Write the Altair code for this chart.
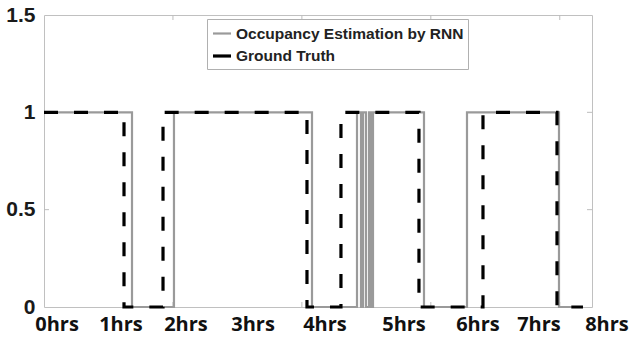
import altair as alt
import pandas as pd

# ---- data (x in samples, plot spans 0..8500) ----
RNN_NAME = "Occupancy Estimation by RNN"
GT_NAME = "Ground Truth"

rnn_t = [0, 1365, 2016, 4157, 4855, 4917, 4948, 4994, 5041, 5072, 5103, 5894, 6561, 7988, 8360]
rnn_v = [1, 0, 1, 0, 1, 0, 1, 0, 1, 0, 1, 0, 1, 0, 0]

gt_t = [0, 1241, 1846, 4079, 4606, 5816, 6809, 7957, 8360]
gt_v = [1, 0, 1, 0, 1, 0, 1, 0, 0]

hour_labels = ["0hrs", "1hrs", "2hrs", "3hrs", "4hrs", "5hrs", "6hrs", "7hrs", "8hrs"]
hour_pos = [202, 1194, 2202, 3242, 4358, 5584, 6731, 7677, 8732]

y_ticks = [0, 0.5, 1, 1.5]
x_ticks = [2000, 4000, 6000, 8000]

W, H = 548, 292

rnn = pd.DataFrame({"t": rnn_t, "v": rnn_v, "series": RNN_NAME})
gt = pd.DataFrame({"t": gt_t, "v": gt_v, "series": GT_NAME})
labels = pd.DataFrame({"t": hour_pos, "label": hour_labels})
ytk = pd.DataFrame({"v": [0.5, 1]})
xtk = pd.DataFrame({"t": x_ticks})

xscale = alt.Scale(domain=[0, 8500], nice=False, zero=False)
yscale = alt.Scale(domain=[0, 1.5], nice=False)
yaxis = alt.Axis(values=y_ticks, labelExpr="'' + datum.value", ticks=False, domain=False,
                 grid=False, labelFont="Liberation Sans", labelFontWeight="bold",
                 labelFontSize=21, labelColor="#1a1a1a", labelPadding=9, title=None)

X = alt.X("t:Q", scale=xscale, axis=None)
Y = alt.Y("v:Q", scale=yscale, axis=yaxis)

color_scale = alt.Scale(domain=[RNN_NAME, GT_NAME], range=["#9a9a9a", "#000000"])
width_scale = alt.Scale(domain=[RNN_NAME, GT_NAME], range=[2.2, 3.2])

legend = alt.Legend(title=None, orient="none", legendX=163, legendY=4, direction="vertical",
                    fillColor="white", strokeColor="#b0b0b0", padding=4,
                    labelFont="Liberation Sans", labelFontSize=15.5, labelFontWeight="bold",
                    labelColor="#222222", symbolType="stroke", symbolSize=324,
                    labelOffset=3, rowPadding=3, labelLimit=400)

rnn_line = alt.Chart(rnn).mark_line(interpolate="step-after").encode(
    x=X, y=Y,
    color=alt.Color("series:N", scale=color_scale, legend=legend),
    strokeWidth=alt.StrokeWidth("series:N", scale=width_scale, legend=legend),
)

gt_line = alt.Chart(gt).mark_line(interpolate="step-after", strokeDash=[14, 16]).encode(
    x=X, y=Y,
    color=alt.Color("series:N", scale=color_scale, legend=legend),
    strokeWidth=alt.StrokeWidth("series:N", scale=width_scale, legend=legend),
)

hour_text = alt.Chart(labels).mark_text(
    font="Open Sans", fontWeight="bold", fontSize=20, color="#111111",
    align="center", baseline="middle"
).encode(x=X, y=alt.value(H + 18), text="label:N")

tick_color = "#bdbdbd"
left_ticks = alt.Chart(ytk).mark_rule(color=tick_color, strokeWidth=1).encode(
    y=Y, x=alt.value(0), x2=alt.value(5))
right_ticks = alt.Chart(ytk).mark_rule(color=tick_color, strokeWidth=1).encode(
    y=Y, x=alt.value(W - 5), x2=alt.value(W))
top_ticks = alt.Chart(xtk).mark_rule(color=tick_color, strokeWidth=1).encode(
    x=X, y=alt.value(0), y2=alt.value(5))
bottom_ticks = alt.Chart(xtk).mark_rule(color=tick_color, strokeWidth=1).encode(
    x=X, y=alt.value(H - 5), y2=alt.value(H))

chart = alt.layer(
    left_ticks, right_ticks, top_ticks, bottom_ticks, rnn_line, gt_line, hour_text
).properties(
    width=W, height=H,
    padding={"left": 44, "top": 15, "right": 39, "bottom": 37},
    autosize=alt.AutoSizeParams(type="none"),
    background="white",
).configure_view(stroke="#c0c0c0", strokeWidth=1)

chart.save("out.html", embed_options={"renderer": "svg", "actions": False})
